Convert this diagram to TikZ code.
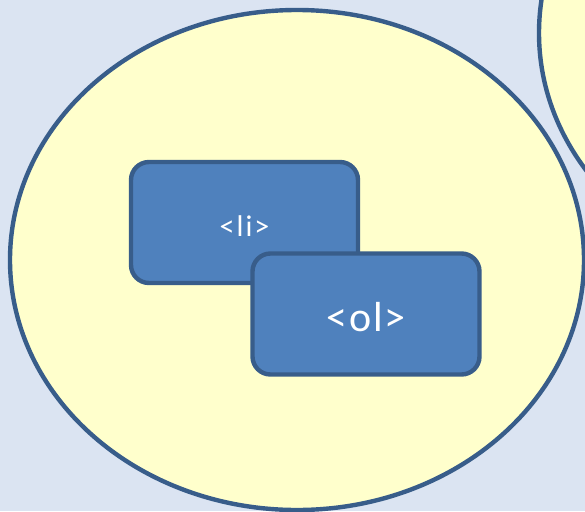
\documentclass[tikz,border=0pt]{standalone}
\usepackage{fontspec}
\setmainfont{Carlito}
\usetikzlibrary{shapes.geometric}
\definecolor{bgblue}{RGB}{219,228,242}
\definecolor{pale}{RGB}{255,255,204}
\definecolor{edgeblue}{RGB}{56,93,138}
\definecolor{boxblue}{RGB}{79,129,189}
\tikzset{
  set/.style={ellipse, draw=edgeblue, fill=pale, line width=4.4pt, minimum width=574pt, minimum height=500pt, inner sep=0pt},
  tag/.style={rectangle, rounded corners=18pt, draw=edgeblue, fill=boxblue, line width=4.4pt, text=white, minimum width=227pt, minimum height=121pt, inner sep=0pt, text depth=0pt}
}
\begin{document}
\begin{tikzpicture}[x=1pt, y=-1pt]
    \newcommand\PW{585}
    \newcommand\PH{511}
    \fill[bgblue] (0,0) rectangle (\PW,\PH);
    \useasboundingbox (0,0) rectangle (\PW,\PH);
    \clip (0,0) rectangle (\PW,\PH);
    \node[set] (Inner) at (297,260){};
    \node[set] (Outer) at (826,33){};
    \node[tag, text height=28pt, font=\fontsize{30}{34}\selectfont\addfontfeature{LetterSpace=7}] (Li) at (244.5,222.5){<li>};
    \node[tag, text height=35pt, font=\fontsize{42}{48}\selectfont\addfontfeature{LetterSpace=4}] (Ol) at (366,314){<ol>};
  \end{tikzpicture}
\end{document}
